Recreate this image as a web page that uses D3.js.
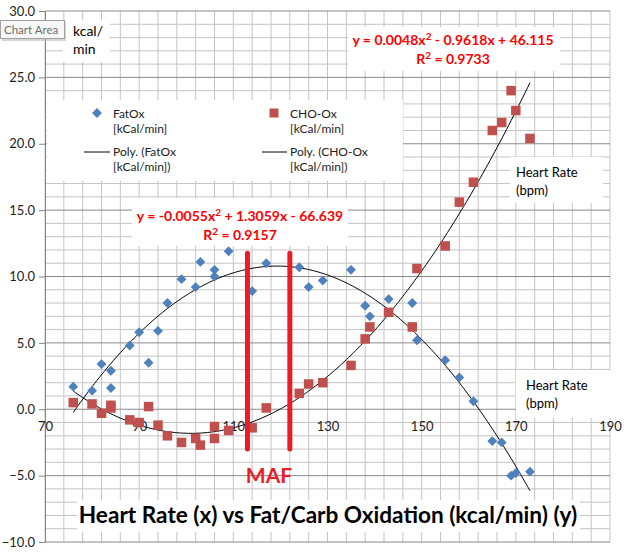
<!DOCTYPE html>
<meta charset="utf-8">
<style>
	body { margin:0; background:#fff; }
	svg text { font-family: Lato, "Open Sans", sans-serif; }
</style>
<head>
	<script src="https://d3js.org/d3.v7.min.js"></script>
</head>
<body>
<script>
var heartRate = [76,80,82,84,84,88,90,92,94,96,99,102,103,106,106,109,114,117,124,126,129,135,138,139,143,148,149,155,158,161,165,167,169,170,173];
var fatOx = [1.7,1.4,3.4,2.9,1.6,4.8,5.8,3.5,5.9,8.0,9.8,9.2,11.1,10.5,10.0,11.9,8.9,11.0,10.7,9.2,9.7,10.5,7.8,7.0,8.3,8.0,5.2,3.7,2.4,0.6,-2.4,-2.5,-5.0,-4.8,-4.7];
var choOx = [0.5,0.4,-0.3,0.3,0.1,-0.8,-1.0,0.2,-1.2,-2.0,-2.5,-2.2,-2.7,-1.3,-2.2,-1.6,-1.4,0.1,1.2,1.9,2.0,3.3,5.3,6.2,7.3,6.2,10.6,12.3,15.6,17.1,21.0,21.6,24.0,22.5,20.4];

var xTicks = [70,90,110,130,150,170,190];
var yTicks = [-10,-5,0,5,10,15,20,25,30];
var mafHR = [113, 122];        // the two red MAF markers
var mafRange = [11.75, -3.0];

var fatEq = ["y = -0.0055x", "2", " + 1.3059x - 66.639"], fatR2 = "0.9157";
var choEq = ["y = 0.0048x", "2", " - 0.9618x + 46.115"], choR2 = "0.9733";

var blue = "#4f81bd", red = "#c0504d";

var W = 629, H = 555;
var svg = d3.select("body").append("svg").attr("width", W).attr("height", H);
svg.append("rect").attr("width", W).attr("height", H).attr("fill", "#fff");

var x = d3.scaleLinear().domain([70,190]).range([45,610]);
var y = d3.scaleLinear().domain([-10,30]).range([542,11]);

// grid: minor every 4 bpm / 1 kcal, major horizontal every 5
var g = svg.append("g");
g.selectAll("line.vx").data(d3.range(70, 190.1, 4)).enter().append("line")
	.attr("x1", d => x(d)).attr("x2", d => x(d)).attr("y1", y(30)).attr("y2", y(-10))
	.attr("stroke", "#c4c4c4");
g.selectAll("line.hy").data(d3.range(-10, 30.1, 1).filter(d => d % 5 != 0)).enter().append("line")
	.attr("x1", x(70)).attr("x2", x(190)).attr("y1", d => y(d)).attr("y2", d => y(d))
	.attr("stroke", "#c4c4c4");
g.selectAll("line.hm").data(yTicks).enter().append("line")
	.attr("x1", x(70)).attr("x2", x(190)).attr("y1", d => y(d)).attr("y2", d => y(d))
	.attr("stroke", "#8a8a8a");

// axes
var yAxis = svg.append("g").attr("transform", "translate(" + x(70) + ",0)")
	.call(d3.axisLeft(y).tickValues(yTicks).tickFormat(d3.format(".1f")).tickSize(6).tickPadding(4));
yAxis.select(".domain").attr("stroke", "#868686");
yAxis.selectAll(".tick line").attr("stroke", "#868686");
yAxis.selectAll("text").style("font-size", "13px").attr("fill", "#222").style("font-family", "Lato");

var xAxis = svg.append("g").attr("transform", "translate(0," + y(0) + ")")
	.call(d3.axisBottom(x).tickValues(xTicks).tickSize(0).tickPadding(13));
xAxis.select(".domain").remove();
xAxis.selectAll("text").style("font-size", "13px").attr("fill", "#222").style("font-family", "Lato");

// white boxes behind the labels
function box(x0, y0, x1, y1) {
	svg.append("rect").attr("x", x0).attr("y", y0).attr("width", x1 - x0).attr("height", y1 - y0).attr("fill", "#fff");
}
box(47, 100, 403, 181);     // legend
box(63, 20, 110, 62);       // kcal/min
box(348, 27, 560, 71);      // CHO equation
box(132, 198, 348, 246);    // Fat equation
box(510, 157, 603, 203);    // heart rate label 1
box(516, 370, 612, 418);    // heart rate label 2
box(77, 500, 580, 532);     // title

// least squares quadratic fit for the trendlines
function quadFit(xs, ys) {
	var s = [0,0,0,0,0], t = [0,0,0];
	xs.forEach(function(xi, i) {
		var p = 1;
		for (var k = 0; k < 5; k++) { s[k] += p; if (k < 3) t[k] += p * ys[i]; p *= xi; }
	});
	var A = [[s[0],s[1],s[2],t[0]],[s[1],s[2],s[3],t[1]],[s[2],s[3],s[4],t[2]]];
	for (var c = 0; c < 3; c++) {
		for (var r = c + 1; r < 3; r++) {
			var f = A[r][c] / A[c][c];
			for (var k = c; k < 4; k++) A[r][k] -= f * A[c][k];
		}
	}
	var b = [0,0,0];
	for (var r = 2; r >= 0; r--) {
		var v = A[r][3];
		for (var k = r + 1; k < 3; k++) v -= A[r][k] * b[k];
		b[r] = v / A[r][r];
	}
	return function(v) { return b[0] + b[1] * v + b[2] * v * v; };
}

var line = d3.line().x(d => x(d[0])).y(d => y(d[1]));
var hrMin = d3.min(heartRate), hrMax = d3.max(heartRate);
[fatOx, choOx].forEach(function(series) {
	var f = quadFit(heartRate, series);
	var pts = d3.range(hrMin, hrMax + 0.01, 0.5).map(v => [v, f(v)]);
	svg.append("path").attr("d", line(pts)).attr("fill", "none").attr("stroke", "#000").attr("stroke-width", 1);
});

// markers
var diamond = d3.symbol().type(d3.symbolDiamond2).size(62);
svg.selectAll("path.fat").data(heartRate).enter().append("path")
	.attr("d", diamond)
	.attr("transform", (d, i) => "translate(" + x(d) + "," + y(fatOx[i]) + ")")
	.attr("fill", blue);
svg.selectAll("rect.cho").data(heartRate).enter().append("rect")
	.attr("x", d => x(d) - 4.75).attr("y", (d, i) => y(choOx[i]) - 4.75)
	.attr("width", 9.5).attr("height", 9.5).attr("fill", red);

// MAF lines
svg.selectAll("line.maf").data(mafHR).enter().append("line")
	.attr("x1", d => x(d)).attr("x2", d => x(d))
	.attr("y1", y(mafRange[0])).attr("y2", y(mafRange[1]))
	.attr("stroke", "#ed1c24").attr("stroke-width", 5).attr("stroke-linecap", "round");
svg.append("text").attr("x", 269).attr("y", 483).attr("text-anchor", "middle")
	.attr("fill", "#ed1c24").style("font-size", "21px").style("font-weight", "bold").text("MAF");

// legend
svg.append("path").attr("d", diamond).attr("transform", "translate(97,113)").attr("fill", blue);
svg.append("rect").attr("x", 269.5).attr("y", 108.5).attr("width", 9).attr("height", 9).attr("fill", red);
svg.append("line").attr("x1", 84).attr("x2", 110).attr("y1", 152).attr("y2", 152).attr("stroke", "#000");
svg.append("line").attr("x1", 262).attr("x2", 287).attr("y1", 152).attr("y2", 152).attr("stroke", "#000");
var legendText = [
	[113, 118, "FatOx"], [113, 133, "[kCal/min]"], [113, 156, "Poly. (FatOx"], [113, 171, "[kCal/min])"],
	[290, 118, "CHO-Ox"], [290, 133, "[kCal/min]"], [290, 156, "Poly. (CHO-Ox"], [290, 171, "[kCal/min])"]
];
svg.selectAll("text.leg").data(legendText).enter().append("text")
	.attr("x", d => d[0]).attr("y", d => d[1]).text(d => d[2])
	.style("font-size", "12px").attr("fill", "#222");

// axis captions
svg.append("text").attr("x", 73).attr("y", 36).style("font-size", "14px").text("kcal/");
svg.append("text").attr("x", 73).attr("y", 54).style("font-size", "14px").text("min");
[[516, 177], [526, 390]].forEach(function(p) {
	svg.append("text").attr("x", p[0]).attr("y", p[1]).style("font-size", "13px").text("Heart Rate");
	svg.append("text").attr("x", p[0]).attr("y", p[1] + 18).style("font-size", "13px").text("(bpm)");
});

// trendline equations
function equation(cx, cy, eq, r2) {
	var t = svg.append("text").attr("x", cx).attr("y", cy).attr("text-anchor", "middle")
		.attr("fill", "#ff0000").style("font-size", "14px").style("font-weight", "bold");
	t.append("tspan").text(eq[0]);
	t.append("tspan").attr("dy", -5).style("font-size", "10px").text(eq[1]);
	t.append("tspan").attr("dy", 5).text(eq[2]);
	var r = svg.append("text").attr("x", cx).attr("y", cy + 19).attr("text-anchor", "middle")
		.attr("fill", "#ff0000").style("font-size", "14px").style("font-weight", "bold");
	r.append("tspan").text("R");
	r.append("tspan").attr("dy", -5).style("font-size", "10px").text("2");
	r.append("tspan").attr("dy", 5).text(" = " + r2);
}
equation(453, 45, choEq, choR2);
equation(240, 221, fatEq, fatR2);

// title
svg.append("text").attr("x", 328).attr("y", 523).attr("text-anchor", "middle")
	.style("font-size", "22.6px").style("font-weight", "bold").attr("fill", "#000")
	.text("Heart Rate (x) vs Fat/Carb Oxidation (kcal/min) (y)");

// "Chart Area" tooltip seen in the screenshot
svg.append("rect").attr("x", 2).attr("y", 22).attr("width", 64).attr("height", 19).attr("fill", "#bbb").attr("opacity", 0.6);
svg.append("rect").attr("x", 0.5).attr("y", 20.5).attr("width", 64).attr("height", 18).attr("fill", "#f7f7f7").attr("stroke", "#a0a0a0");
svg.append("text").attr("x", 4).attr("y", 33.5).style("font-size", "11.5px").attr("fill", "#6d6d6d").text("Chart Area");
</script>
</body>
